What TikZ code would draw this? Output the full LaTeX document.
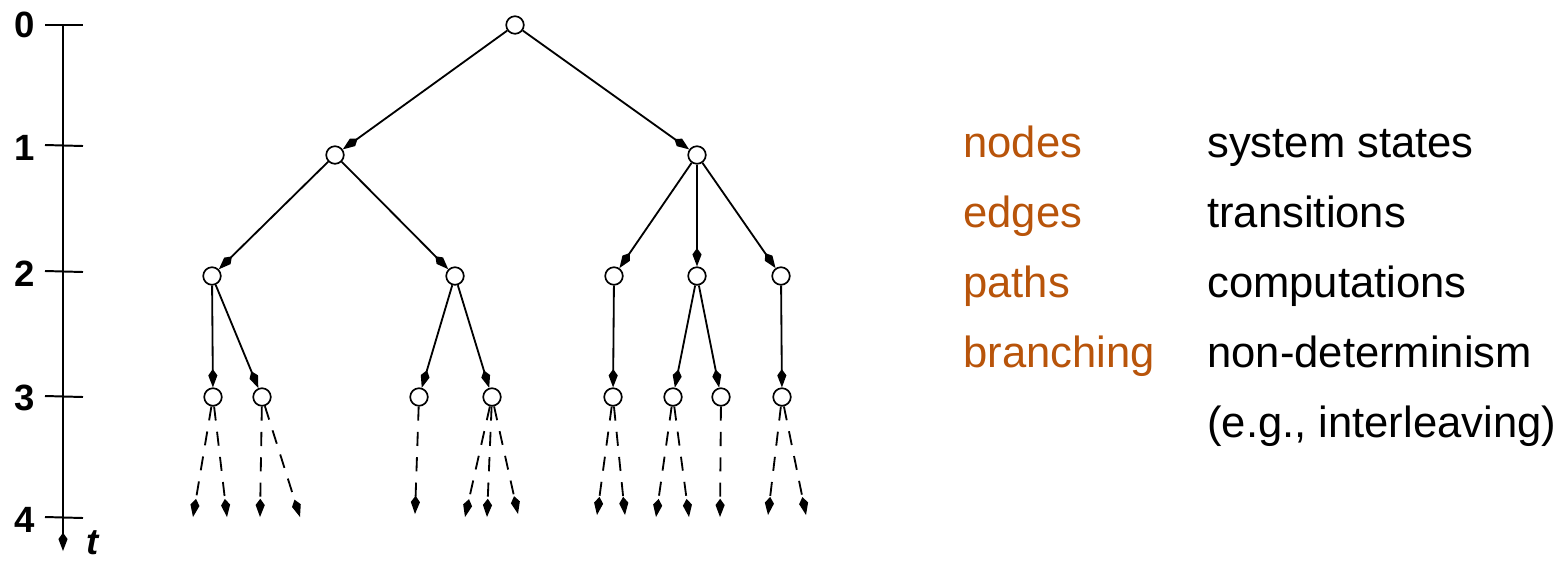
\documentclass[tikz,border=0pt]{standalone}
\usepackage{fontspec}
\setmainfont{Liberation Sans}
\usetikzlibrary{arrows.meta}
\definecolor{legendbrown}{RGB}{184,84,10}
\tikzset{
	state/.style={circle,draw,fill=white,line width=1.2pt,minimum size=12.5pt,inner sep=0pt},
	edge/.style={line width=1.3pt,-{Kite[length=13pt,width=6.5pt,inset=4.5pt]}},
	future/.style={edge,dash pattern=on 10pt off 8pt},
	ticklabel/.style={font=\fontsize{26}{30}\selectfont\bfseries},
	legendkey/.style={anchor=base west,inner sep=0pt,text=legendbrown,font=\fontsize{31}{37}\selectfont},
	legendtext/.style={anchor=base west,inner sep=0pt,font=\fontsize{31}{37}\selectfont}
}
\begin{document}
\begin{tikzpicture}[x=0.025cm,y=-0.025cm]
	% fix the page size (pixels of the reference)
	\useasboundingbox (0,0) rectangle (1562,560);
	% the time axis
	\coordinate (ttop) at (63,25);
	\coordinate (tend) at (63,551);
	\draw[line width=1.4pt,-{Kite[length=13pt,width=6.5pt,inset=4.5pt]}] (ttop) -- (tend);
	\draw[line width=1.4pt] (45,25) -- (83,25);
	\draw[line width=1.4pt] (45,145) -- (83,146);
	\draw[line width=1.4pt] (45,271) -- (83,272);
	\draw[line width=1.4pt] (45,396) -- (83,397);
	\draw[line width=1.4pt] (45,517) -- (83,518);
	\node[ticklabel] (t0) at (25,25) {0};
	\node[ticklabel] (t1) at (25,148) {1};
	\node[ticklabel] (t2) at (25,274) {2};
	\node[ticklabel] (t3) at (25,398) {3};
	\node[ticklabel] (t4) at (25,520) {4};
	\node[ticklabel,inner sep=0pt,font=\fontsize{26}{30}\selectfont\bfseries\itshape] (tt) at (93,543) {t};
	% states, level by level
	\node[state] (a0) at (515,25) {};
	\node[state] (b1) at (335,155) {};
	\node[state] (b2) at (697,155) {};
	\node[state] (c1) at (212,276) {};
	\node[state] (c2) at (455,276) {};
	\node[state] (c3) at (614,276) {};
	\node[state] (c4) at (697,276) {};
	\node[state] (c5) at (781,276) {};
	\node[state] (d1) at (213,397) {};
	\node[state] (d2) at (262,397) {};
	\node[state] (d3) at (419,397) {};
	\node[state] (d4) at (492,397) {};
	\node[state] (d5) at (613,397) {};
	\node[state] (d6) at (673,397) {};
	\node[state] (d7) at (721,397) {};
	\node[state] (d8) at (782,397) {};
	% transitions
	\draw[edge] (a0) -- (b1);
	\draw[edge] (a0) -- (b2);
	\draw[edge] (b1) -- (c1);
	\draw[edge] (b1) -- (c2);
	\draw[edge] (b2) -- (c3);
	\draw[edge] (b2) -- (c4);
	\draw[edge] (b2) -- (c5);
	\draw[edge] (c1) -- (d1);
	\draw[edge] (c1) -- (d2);
	\draw[edge] (c2) -- (d3);
	\draw[edge] (c2) -- (d4);
	\draw[edge] (c3) -- (d5);
	\draw[edge] (c4) -- (d6);
	\draw[edge] (c4) -- (d7);
	\draw[edge] (c5) -- (d8);
	% open ends at level 4
	\coordinate (e1) at (193,517);
	\coordinate (e2) at (227,517);
	\coordinate (e3) at (260,517);
	\coordinate (e4) at (300,517);
	\coordinate (e5) at (415,514);
	\coordinate (e6) at (465,517);
	\coordinate (e7) at (487,517);
	\coordinate (e8) at (518,514);
	\coordinate (e9) at (597,515);
	\coordinate (e10) at (625,515);
	\coordinate (e11) at (656,517);
	\coordinate (e12) at (689,517);
	\coordinate (e13) at (720,517);
	\coordinate (e14) at (768,515);
	\coordinate (e15) at (806,515);
	\draw[future] (d1) -- (e1);
	\draw[future] (d1) -- (e2);
	\draw[future] (d2) -- (e3);
	\draw[future] (d2) -- (e4);
	\draw[future] (d3) -- (e5);
	\draw[future] (d4) -- (e6);
	\draw[future] (d4) -- (e7);
	\draw[future] (d4) -- (e8);
	\draw[future] (d5) -- (e9);
	\draw[future] (d5) -- (e10);
	\draw[future] (d6) -- (e11);
	\draw[future] (d6) -- (e12);
	\draw[future] (d7) -- (e13);
	\draw[future] (d8) -- (e14);
	\draw[future] (d8) -- (e15);
	% legend
	\node[legendkey] (k1) at (963,157) {nodes};
	\node[legendkey] (k2) at (963,227) {edges};
	\node[legendkey] (k3) at (963,297) {paths};
	\node[legendkey] (k4) at (963,367) {branching};
	\node[legendtext] (v1) at (1207,157) {system states};
	\node[legendtext] (v2) at (1207,227) {transitions};
	\node[legendtext] (v3) at (1207,297) {computations};
	\node[legendtext] (v4) at (1207,367) {non-determinism};
	\node[legendtext] (v5) at (1207,437) {(e.g., interleaving)};
\end{tikzpicture}
\end{document}
